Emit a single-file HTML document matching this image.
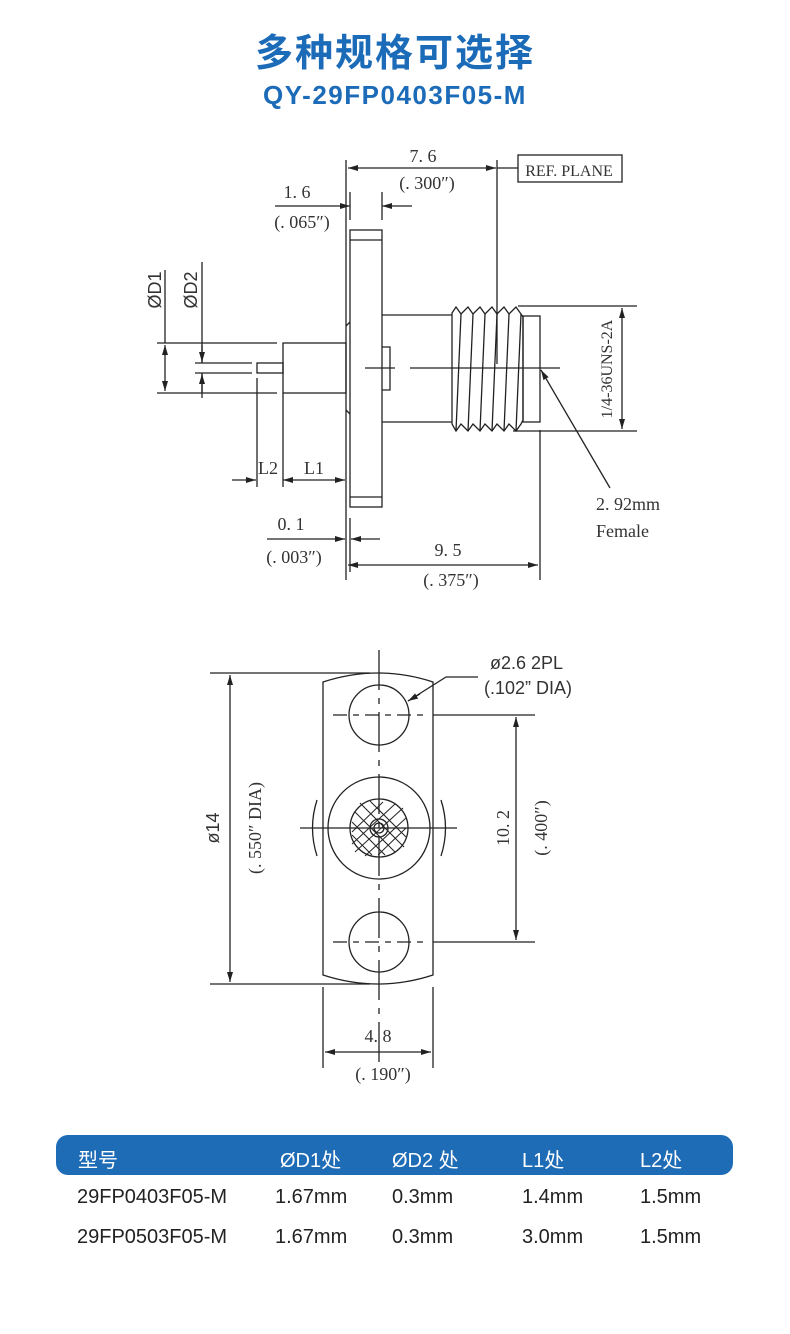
<!DOCTYPE html>
<html><head><meta charset="utf-8"><style>
html,body{margin:0;padding:0;background:#fff;}
body{width:790px;height:1334px;position:relative;overflow:hidden;font-family:"Liberation Sans","Noto Sans CJK SC",sans-serif;}
.t1{position:absolute;left:0;width:790px;top:22px;text-align:center;color:#1b6bb8;font-size:38px;font-weight:bold;letter-spacing:2px;}
.t2{position:absolute;left:0;width:790px;top:80px;text-align:center;color:#1b6bb8;font-size:26px;font-weight:bold;letter-spacing:1.5px;}
.bar{position:absolute;left:56px;top:1135px;width:677px;height:40px;background:#1f6cb6;border-radius:12px;}
.c{position:absolute;font-size:20px;white-space:nowrap;}
.h{color:#fff;top:1144px;}
.r{color:#222;}
</style></head><body>
<div class="t1">多种规格可选择</div>
<div class="t2">QY-29FP0403F05-M</div>
<svg width="790" height="1334" style="position:absolute;left:0;top:0" xmlns="http://www.w3.org/2000/svg">
<defs><marker id="a" viewBox="0 0 10 6" refX="10" refY="3" markerWidth="10" markerHeight="6" orient="auto-start-reverse" markerUnits="userSpaceOnUse"><path d="M0,0L10,3L0,6z" fill="#222"/></marker></defs>
<g stroke="#222" stroke-width="1.3" fill="none">
<line x1="346" y1="160" x2="346" y2="580"/>
<line x1="348" y1="168" x2="496" y2="168" marker-start="url(#a)" marker-end="url(#a)"/>
<line x1="497" y1="160" x2="497" y2="364"/>
<line x1="497" y1="168" x2="518" y2="168"/>
<rect x="518" y="155" width="104" height="27"/>
<line x1="350" y1="192" x2="350" y2="220"/><line x1="382" y1="192" x2="382" y2="220"/>
<line x1="275" y1="206" x2="350" y2="206" marker-end="url(#a)"/>
<line x1="412" y1="206" x2="382" y2="206" marker-end="url(#a)"/>
<rect x="350" y="230" width="32" height="277"/>
<line x1="350" y1="240" x2="382" y2="240"/><line x1="350" y1="497" x2="382" y2="497"/>
<polyline points="382,347 390,347 390,390 382,390"/>
<line x1="382" y1="315" x2="452" y2="315"/><line x1="382" y1="422" x2="452" y2="422"/>
<line x1="346" y1="326" x2="350" y2="322"/><line x1="346" y1="410" x2="350" y2="414"/>
<path d="M452,313 L456,307 L461,314 L468,307 L473,314 L480,307 L485,314 L492,307 L497,314 L504,307 L509,314 L516,307 L521,314 L523,317 L523,420 L521,424 L516,431 L509,424 L504,431 L497,424 L492,431 L485,424 L480,431 L473,424 L468,431 L461,424 L456,431 L452,424 Z"/>
<line x1="461" y1="314" x2="456" y2="431"/><line x1="473" y1="314" x2="468" y2="431"/><line x1="485" y1="314" x2="480" y2="431"/><line x1="497" y1="314" x2="492" y2="431"/><line x1="509" y1="314" x2="504" y2="431"/><line x1="521" y1="314" x2="516" y2="431"/>
<rect x="523" y="316" width="17" height="106"/>
<line x1="518" y1="306" x2="637" y2="306"/><line x1="513" y1="431" x2="637" y2="431"/>
<line x1="622" y1="308" x2="622" y2="429" marker-start="url(#a)" marker-end="url(#a)"/>
<line x1="365" y1="368" x2="395" y2="368"/><line x1="410" y1="368" x2="560" y2="368"/>
<rect x="283" y="343" width="63" height="50"/>
<rect x="257" y="363" width="26" height="10"/>
<line x1="157" y1="343" x2="277" y2="343"/><line x1="157" y1="393" x2="277" y2="393"/>
<line x1="165" y1="345" x2="165" y2="391" marker-start="url(#a)" marker-end="url(#a)"/>
<line x1="195" y1="363" x2="252" y2="363"/><line x1="195" y1="373" x2="252" y2="373"/>
<line x1="202" y1="262" x2="202" y2="363"/><line x1="202" y1="373" x2="202" y2="398"/>
<line x1="202" y1="345" x2="202" y2="362" marker-end="url(#a)"/><line x1="202" y1="392" x2="202" y2="374" marker-end="url(#a)"/>
<line x1="165" y1="270" x2="165" y2="343"/>
<line x1="257" y1="378" x2="257" y2="487"/><line x1="283" y1="393" x2="283" y2="487"/>
<line x1="232" y1="480" x2="256" y2="480" marker-end="url(#a)"/>
<line x1="283" y1="480" x2="345" y2="480" marker-start="url(#a)" marker-end="url(#a)"/>
<line x1="350" y1="518" x2="350" y2="572"/>
<line x1="267" y1="539" x2="345" y2="539" marker-end="url(#a)"/>
<line x1="380" y1="539" x2="351" y2="539" marker-end="url(#a)"/>
<line x1="540" y1="430" x2="540" y2="580"/>
<line x1="348" y1="565" x2="538" y2="565" marker-start="url(#a)" marker-end="url(#a)"/>
<line x1="610" y1="488" x2="541" y2="370" marker-end="url(#a)"/>
<path d="M323,682 Q378,664 433,682 L433,975 Q378,993 323,975 Z"/>
<line x1="379" y1="650" x2="379" y2="1065" stroke-dasharray="40,8,6,8"/>
<line x1="210" y1="673" x2="370" y2="673"/><line x1="210" y1="984" x2="370" y2="984"/>
<line x1="230" y1="675" x2="230" y2="982" marker-start="url(#a)" marker-end="url(#a)"/>
<circle cx="379" cy="715" r="30"/><circle cx="379" cy="942" r="30"/>
<line x1="333" y1="715" x2="425" y2="715" stroke-dasharray="14,6,6,6"/>
<line x1="333" y1="942" x2="425" y2="942" stroke-dasharray="14,6,6,6"/>
<circle cx="379" cy="828" r="51"/><circle cx="379" cy="828" r="29"/>
<circle cx="379" cy="828" r="9"/><circle cx="379" cy="828" r="5"/>
<path d="M317,800 Q308,828 317,856"/><path d="M441,800 Q450,828 441,856"/>
<line x1="300" y1="828" x2="457" y2="828"/>
<g stroke-width="1">
<line x1="355" y1="812" x2="395" y2="852"/><line x1="360" y1="803" x2="404" y2="847"/><line x1="370" y1="801" x2="406" y2="837"/>
<line x1="352" y1="822" x2="385" y2="855"/><line x1="352" y1="835" x2="372" y2="855"/>
<line x1="352" y1="844" x2="395" y2="804"/><line x1="355" y1="852" x2="403" y2="808"/><line x1="365" y1="856" x2="406" y2="818"/>
<line x1="352" y1="832" x2="383" y2="802"/><line x1="378" y1="855" x2="406" y2="828"/>
</g>
<line x1="433" y1="715" x2="535" y2="715"/><line x1="433" y1="942" x2="535" y2="942"/>
<line x1="516" y1="717" x2="516" y2="940" marker-start="url(#a)" marker-end="url(#a)"/>
<polyline points="478,677 446,677 408,701" />
<line x1="420" y1="694" x2="408" y2="701" marker-end="url(#a)"/>
<line x1="323" y1="987" x2="323" y2="1068"/><line x1="433" y1="987" x2="433" y2="1068"/>
<line x1="325" y1="1052" x2="431" y2="1052" marker-start="url(#a)" marker-end="url(#a)"/>
</g>
<g font-family="Liberation Serif, serif" font-size="18" fill="#333" text-anchor="middle">
<text x="423" y="162">7. 6</text><text x="427" y="189">(. 300″)</text>
<text x="297" y="198">1. 6</text><text x="302" y="228">(. 065″)</text>
<text x="569" y="176" font-size="16">REF. PLANE</text>
<text x="268" y="474">L2</text><text x="314" y="474">L1</text>
<text x="291" y="530">0. 1</text><text x="294" y="563">(. 003″)</text>
<text x="448" y="556">9. 5</text><text x="451" y="586">(. 375″)</text>
<text x="596" y="510" text-anchor="start">2. 92mm</text>
<text x="596" y="537" text-anchor="start">Female</text>
<text transform="translate(612,369) rotate(-90)" font-size="16">1/4-36UNS-2A</text>
<text transform="translate(161,290) rotate(-90)" font-family="Liberation Sans, sans-serif">ØD1</text>
<text transform="translate(197,290) rotate(-90)" font-family="Liberation Sans, sans-serif">ØD2</text>
<text transform="translate(219,828) rotate(-90)" font-family="Liberation Sans, sans-serif">ø14</text>
<text transform="translate(261,828) rotate(-90)">(. 550″  DIA)</text>
<text transform="translate(509,828) rotate(-90)">10. 2</text>
<text transform="translate(547,828) rotate(-90)">(. 400″)</text>
<text x="378" y="1042">4. 8</text><text x="383" y="1080">(. 190″)</text>
<text x="490" y="669" text-anchor="start" font-family="Liberation Sans, sans-serif">ø2.6  2PL</text>
<text x="484" y="694" text-anchor="start" font-family="Liberation Sans, sans-serif">(.102”  DIA)</text>
</g>
</svg>
<div class="bar"></div>
<div class="c h" style="left:78px">型号</div>
<div class="c h" style="left:280px">ØD1处</div>
<div class="c h" style="left:392px">ØD2 处</div>
<div class="c h" style="left:522px">L1处</div>
<div class="c h" style="left:640px">L2处</div>
<div class="c r" style="left:77px;top:1186px">29FP0403F05-M</div>
<div class="c r" style="left:275px;top:1186px">1.67mm</div>
<div class="c r" style="left:392px;top:1186px">0.3mm</div>
<div class="c r" style="left:522px;top:1186px">1.4mm</div>
<div class="c r" style="left:640px;top:1186px">1.5mm</div>
<div class="c r" style="left:77px;top:1226px">29FP0503F05-M</div>
<div class="c r" style="left:275px;top:1226px">1.67mm</div>
<div class="c r" style="left:392px;top:1226px">0.3mm</div>
<div class="c r" style="left:522px;top:1226px">3.0mm</div>
<div class="c r" style="left:640px;top:1226px">1.5mm</div>
</body></html>
